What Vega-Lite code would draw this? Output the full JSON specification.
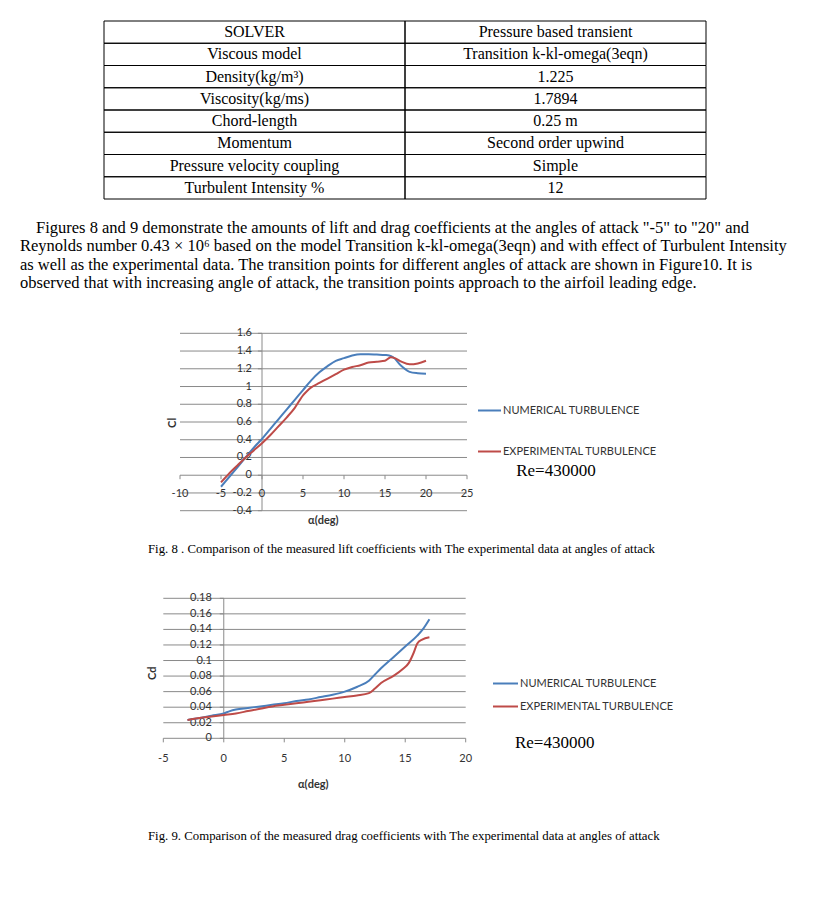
{
  "$schema": "https://vega.github.io/schema/vega-lite/v6.json",
  "width": 820,
  "height": 905,
  "padding": 0,
  "autosize": {"type": "none"},
  "background": "white",
  "config": {"view": {"stroke": null}},
  "datasets": {
    "table": [
      {"row": 1, "param": "SOLVER", "value": "Pressure based transient"},
      {"row": 2, "param": "Viscous model", "value": "Transition k-kl-omega(3eqn)"},
      {"row": 3, "param": "Density(kg/m³)", "value": "1.225"},
      {"row": 4, "param": "Viscosity(kg/ms)", "value": "1.7894"},
      {"row": 5, "param": "Chord-length", "value": "0.25 m"},
      {"row": 6, "param": "Momentum", "value": "Second order upwind"},
      {"row": 7, "param": "Pressure velocity coupling", "value": "Simple"},
      {"row": 8, "param": "Turbulent Intensity %", "value": "12"}
    ],
    "para": [
      {"line": 1, "text": "Figures 8 and 9 demonstrate the amounts of lift and drag coefficients at the angles of attack \"-5\" to \"20\" and"},
      {"line": 2, "text": "Reynolds number 0.43 × 10⁶ based on the model Transition k-kl-omega(3eqn) and with effect of Turbulent Intensity"},
      {"line": 3, "text": "as well as the experimental data. The transition points for different angles of attack are shown in Figure10. It is"},
      {"line": 4, "text": "observed that with increasing angle of attack, the transition points approach to the airfoil leading edge."}
    ],
    "captions": [
      {"fig": 8, "text": "Fig.  8 . Comparison of the measured lift coefficients with The experimental data at angles of attack"},
      {"fig": 9, "text": "Fig. 9. Comparison of the measured drag coefficients with The experimental data at angles of attack"}
    ],
    "liftGrid": [
      {"v": -0.4, "label": "-0.4"}, {"v": -0.2, "label": "-0.2"}, {"v": 0, "label": "0"}, {"v": 0.2, "label": "0.2"},
      {"v": 0.4, "label": "0.4"}, {"v": 0.6, "label": "0.6"}, {"v": 0.8, "label": "0.8"}, {"v": 1, "label": "1"},
      {"v": 1.2, "label": "1.2"}, {"v": 1.4, "label": "1.4"}, {"v": 1.6, "label": "1.6"}
    ],
    "liftX": [
      {"t": -10, "label": "-10"}, {"t": -5, "label": "-5"}, {"t": 0, "label": "0"}, {"t": 5, "label": "5"},
      {"t": 10, "label": "10"}, {"t": 15, "label": "15"}, {"t": 20, "label": "20"}, {"t": 25, "label": "25"}
    ],
    "dragGrid": [
      {"v": 0, "label": "0"}, {"v": 0.02, "label": "0.02"}, {"v": 0.04, "label": "0.04"}, {"v": 0.06, "label": "0.06"},
      {"v": 0.08, "label": "0.08"}, {"v": 0.1, "label": "0.1"}, {"v": 0.12, "label": "0.12"}, {"v": 0.14, "label": "0.14"},
      {"v": 0.16, "label": "0.16"}, {"v": 0.18, "label": "0.18"}
    ],
    "dragX": [
      {"t": -5, "label": "-5"}, {"t": 0, "label": "0"}, {"t": 5, "label": "5"},
      {"t": 10, "label": "10"}, {"t": 15, "label": "15"}, {"t": 20, "label": "20"}
    ],
    "lift": [
      {"series": "NUMERICAL TURBULENCE", "alpha": -5, "c": -0.13},
      {"series": "NUMERICAL TURBULENCE", "alpha": -4, "c": -0.02},
      {"series": "NUMERICAL TURBULENCE", "alpha": -3, "c": 0.09},
      {"series": "NUMERICAL TURBULENCE", "alpha": -2, "c": 0.2},
      {"series": "NUMERICAL TURBULENCE", "alpha": -1, "c": 0.31},
      {"series": "NUMERICAL TURBULENCE", "alpha": 0, "c": 0.41},
      {"series": "NUMERICAL TURBULENCE", "alpha": 1, "c": 0.52},
      {"series": "NUMERICAL TURBULENCE", "alpha": 2, "c": 0.63},
      {"series": "NUMERICAL TURBULENCE", "alpha": 3, "c": 0.74},
      {"series": "NUMERICAL TURBULENCE", "alpha": 4, "c": 0.85},
      {"series": "NUMERICAL TURBULENCE", "alpha": 5, "c": 0.96},
      {"series": "NUMERICAL TURBULENCE", "alpha": 6, "c": 1.07},
      {"series": "NUMERICAL TURBULENCE", "alpha": 7, "c": 1.16},
      {"series": "NUMERICAL TURBULENCE", "alpha": 8, "c": 1.23},
      {"series": "NUMERICAL TURBULENCE", "alpha": 9, "c": 1.29},
      {"series": "NUMERICAL TURBULENCE", "alpha": 10, "c": 1.32},
      {"series": "NUMERICAL TURBULENCE", "alpha": 11, "c": 1.35},
      {"series": "NUMERICAL TURBULENCE", "alpha": 12, "c": 1.365},
      {"series": "NUMERICAL TURBULENCE", "alpha": 13, "c": 1.365},
      {"series": "NUMERICAL TURBULENCE", "alpha": 14, "c": 1.36},
      {"series": "NUMERICAL TURBULENCE", "alpha": 15, "c": 1.355},
      {"series": "NUMERICAL TURBULENCE", "alpha": 15.5, "c": 1.35},
      {"series": "NUMERICAL TURBULENCE", "alpha": 16, "c": 1.33},
      {"series": "NUMERICAL TURBULENCE", "alpha": 17, "c": 1.23},
      {"series": "NUMERICAL TURBULENCE", "alpha": 18, "c": 1.165},
      {"series": "NUMERICAL TURBULENCE", "alpha": 19, "c": 1.15},
      {"series": "NUMERICAL TURBULENCE", "alpha": 20, "c": 1.145},
      {"series": "EXPERIMENTAL TURBULENCE", "alpha": -5, "c": -0.08},
      {"series": "EXPERIMENTAL TURBULENCE", "alpha": -4, "c": 0.02},
      {"series": "EXPERIMENTAL TURBULENCE", "alpha": -3, "c": 0.11},
      {"series": "EXPERIMENTAL TURBULENCE", "alpha": -2, "c": 0.2},
      {"series": "EXPERIMENTAL TURBULENCE", "alpha": -1, "c": 0.28},
      {"series": "EXPERIMENTAL TURBULENCE", "alpha": 0, "c": 0.36},
      {"series": "EXPERIMENTAL TURBULENCE", "alpha": 1, "c": 0.45},
      {"series": "EXPERIMENTAL TURBULENCE", "alpha": 2, "c": 0.55},
      {"series": "EXPERIMENTAL TURBULENCE", "alpha": 3, "c": 0.65},
      {"series": "EXPERIMENTAL TURBULENCE", "alpha": 4, "c": 0.76},
      {"series": "EXPERIMENTAL TURBULENCE", "alpha": 5, "c": 0.9},
      {"series": "EXPERIMENTAL TURBULENCE", "alpha": 5.5, "c": 0.95},
      {"series": "EXPERIMENTAL TURBULENCE", "alpha": 6, "c": 0.99},
      {"series": "EXPERIMENTAL TURBULENCE", "alpha": 7, "c": 1.04},
      {"series": "EXPERIMENTAL TURBULENCE", "alpha": 8, "c": 1.09},
      {"series": "EXPERIMENTAL TURBULENCE", "alpha": 9, "c": 1.14},
      {"series": "EXPERIMENTAL TURBULENCE", "alpha": 10, "c": 1.19},
      {"series": "EXPERIMENTAL TURBULENCE", "alpha": 11, "c": 1.22},
      {"series": "EXPERIMENTAL TURBULENCE", "alpha": 12, "c": 1.24},
      {"series": "EXPERIMENTAL TURBULENCE", "alpha": 13, "c": 1.27},
      {"series": "EXPERIMENTAL TURBULENCE", "alpha": 14, "c": 1.28},
      {"series": "EXPERIMENTAL TURBULENCE", "alpha": 15, "c": 1.29},
      {"series": "EXPERIMENTAL TURBULENCE", "alpha": 15.7, "c": 1.33},
      {"series": "EXPERIMENTAL TURBULENCE", "alpha": 16.2, "c": 1.32},
      {"series": "EXPERIMENTAL TURBULENCE", "alpha": 17, "c": 1.28},
      {"series": "EXPERIMENTAL TURBULENCE", "alpha": 18, "c": 1.25},
      {"series": "EXPERIMENTAL TURBULENCE", "alpha": 19, "c": 1.26},
      {"series": "EXPERIMENTAL TURBULENCE", "alpha": 20, "c": 1.29}
    ],
    "drag": [
      {"series": "NUMERICAL TURBULENCE", "alpha": -3, "c": 0.0235},
      {"series": "NUMERICAL TURBULENCE", "alpha": -2, "c": 0.026},
      {"series": "NUMERICAL TURBULENCE", "alpha": -1, "c": 0.029},
      {"series": "NUMERICAL TURBULENCE", "alpha": 0, "c": 0.032},
      {"series": "NUMERICAL TURBULENCE", "alpha": 0.5, "c": 0.035},
      {"series": "NUMERICAL TURBULENCE", "alpha": 1, "c": 0.037},
      {"series": "NUMERICAL TURBULENCE", "alpha": 2, "c": 0.039},
      {"series": "NUMERICAL TURBULENCE", "alpha": 3, "c": 0.041},
      {"series": "NUMERICAL TURBULENCE", "alpha": 4, "c": 0.043},
      {"series": "NUMERICAL TURBULENCE", "alpha": 5, "c": 0.045},
      {"series": "NUMERICAL TURBULENCE", "alpha": 6, "c": 0.048},
      {"series": "NUMERICAL TURBULENCE", "alpha": 7, "c": 0.05},
      {"series": "NUMERICAL TURBULENCE", "alpha": 8, "c": 0.053},
      {"series": "NUMERICAL TURBULENCE", "alpha": 9, "c": 0.056},
      {"series": "NUMERICAL TURBULENCE", "alpha": 10, "c": 0.06},
      {"series": "NUMERICAL TURBULENCE", "alpha": 11, "c": 0.066},
      {"series": "NUMERICAL TURBULENCE", "alpha": 12, "c": 0.074},
      {"series": "NUMERICAL TURBULENCE", "alpha": 12.5, "c": 0.082},
      {"series": "NUMERICAL TURBULENCE", "alpha": 13, "c": 0.09},
      {"series": "NUMERICAL TURBULENCE", "alpha": 14, "c": 0.104},
      {"series": "NUMERICAL TURBULENCE", "alpha": 15, "c": 0.118},
      {"series": "NUMERICAL TURBULENCE", "alpha": 16, "c": 0.132},
      {"series": "NUMERICAL TURBULENCE", "alpha": 16.5, "c": 0.141},
      {"series": "NUMERICAL TURBULENCE", "alpha": 17, "c": 0.153},
      {"series": "EXPERIMENTAL TURBULENCE", "alpha": -3, "c": 0.0235},
      {"series": "EXPERIMENTAL TURBULENCE", "alpha": -2, "c": 0.026},
      {"series": "EXPERIMENTAL TURBULENCE", "alpha": -1, "c": 0.028},
      {"series": "EXPERIMENTAL TURBULENCE", "alpha": 0, "c": 0.03},
      {"series": "EXPERIMENTAL TURBULENCE", "alpha": 1, "c": 0.032},
      {"series": "EXPERIMENTAL TURBULENCE", "alpha": 2, "c": 0.035},
      {"series": "EXPERIMENTAL TURBULENCE", "alpha": 3, "c": 0.038},
      {"series": "EXPERIMENTAL TURBULENCE", "alpha": 4, "c": 0.041},
      {"series": "EXPERIMENTAL TURBULENCE", "alpha": 5, "c": 0.043},
      {"series": "EXPERIMENTAL TURBULENCE", "alpha": 6, "c": 0.045},
      {"series": "EXPERIMENTAL TURBULENCE", "alpha": 7, "c": 0.047},
      {"series": "EXPERIMENTAL TURBULENCE", "alpha": 8, "c": 0.049},
      {"series": "EXPERIMENTAL TURBULENCE", "alpha": 9, "c": 0.051},
      {"series": "EXPERIMENTAL TURBULENCE", "alpha": 10, "c": 0.053},
      {"series": "EXPERIMENTAL TURBULENCE", "alpha": 11, "c": 0.055},
      {"series": "EXPERIMENTAL TURBULENCE", "alpha": 12, "c": 0.058},
      {"series": "EXPERIMENTAL TURBULENCE", "alpha": 12.5, "c": 0.064},
      {"series": "EXPERIMENTAL TURBULENCE", "alpha": 13, "c": 0.071},
      {"series": "EXPERIMENTAL TURBULENCE", "alpha": 14, "c": 0.08},
      {"series": "EXPERIMENTAL TURBULENCE", "alpha": 14.8, "c": 0.089},
      {"series": "EXPERIMENTAL TURBULENCE", "alpha": 15.3, "c": 0.097},
      {"series": "EXPERIMENTAL TURBULENCE", "alpha": 15.7, "c": 0.11},
      {"series": "EXPERIMENTAL TURBULENCE", "alpha": 16, "c": 0.122},
      {"series": "EXPERIMENTAL TURBULENCE", "alpha": 16.4, "c": 0.127},
      {"series": "EXPERIMENTAL TURBULENCE", "alpha": 17, "c": 0.13}
    ],
    "re": [{"label": "Re=430000"}],
    "alphaTitle": [{"label": "α(deg)"}],
    "clTitle": [{"label": "Cl"}],
    "cdTitle": [{"label": "Cd"}]
  },
  "layer": [
    {
      "data": {"name": "table"},
      "layer": [
        {
          "mark": {"type": "rect", "fill": "transparent", "stroke": "black", "strokeWidth": 1},
          "encoding": {
            "y": {"field": "row", "type": "ordinal", "scale": {"range": [21, 199], "paddingInner": 0, "paddingOuter": 0}, "axis": null},
            "x": {"datum": 0, "type": "quantitative", "scale": {"domain": [0, 1], "range": [104, 706], "nice": false, "zero": false}, "axis": null},
            "x2": {"datum": 0.5}
          }
        },
        {
          "mark": {"type": "rect", "fill": "transparent", "stroke": "black", "strokeWidth": 1},
          "encoding": {
            "y": {"field": "row", "type": "ordinal", "axis": null},
            "x": {"datum": 0.5, "type": "quantitative", "axis": null},
            "x2": {"datum": 1}
          }
        },
        {
          "mark": {"type": "text", "font": "Liberation Serif", "fontSize": 16, "color": "black", "align": "center", "baseline": "middle"},
          "encoding": {
            "y": {"field": "row", "type": "ordinal", "axis": null},
            "x": {"datum": 0.25, "type": "quantitative", "axis": null},
            "text": {"field": "param"}
          }
        },
        {
          "mark": {"type": "text", "font": "Liberation Serif", "fontSize": 16, "color": "black", "align": "center", "baseline": "middle"},
          "encoding": {
            "y": {"field": "row", "type": "ordinal", "axis": null},
            "x": {"datum": 0.75, "type": "quantitative", "axis": null},
            "text": {"field": "value"}
          }
        }
      ]
    },
    {
      "data": {"name": "para"},
      "layer": [
        {
          "transform": [{"filter": "datum.line == 1"}],
          "mark": {"type": "text", "font": "Liberation Serif", "fontSize": 16.5, "color": "black", "align": "left", "baseline": "middle", "dx": 16},
          "encoding": {
            "y": {"field": "line", "type": "quantitative", "scale": {"domain": [1, 4], "range": [228, 283], "nice": false, "zero": false}, "axis": null},
            "x": {"datum": 0, "type": "quantitative", "scale": {"domain": [0, 1], "range": [20, 800], "nice": false, "zero": false}, "axis": null},
            "text": {"field": "text"}
          }
        },
        {
          "transform": [{"filter": "datum.line > 1"}],
          "mark": {"type": "text", "font": "Liberation Serif", "fontSize": 16.5, "color": "black", "align": "left", "baseline": "middle"},
          "encoding": {
            "y": {"field": "line", "type": "quantitative", "scale": {"domain": [1, 4], "range": [228, 283], "nice": false, "zero": false}, "axis": null},
            "x": {"datum": 0, "type": "quantitative", "scale": {"domain": [0, 1], "range": [20, 800], "nice": false, "zero": false}, "axis": null},
            "text": {"field": "text"}
          }
        }
      ]
    },
    {
      "data": {"name": "captions"},
      "mark": {"type": "text", "font": "Liberation Serif", "fontSize": 12.8, "color": "black", "align": "left", "baseline": "middle"},
      "encoding": {
        "y": {"field": "fig", "type": "quantitative", "scale": {"domain": [8, 9], "range": [549, 836], "nice": false, "zero": false}, "axis": null},
        "x": {"datum": 0, "type": "quantitative", "scale": {"domain": [0, 1], "range": [148, 660], "nice": false, "zero": false}, "axis": null},
        "text": {"field": "text"}
      }
    },
    {
      "encoding": {
        "x": {"type": "quantitative", "scale": {"domain": [-10, 25], "range": [180, 467], "nice": false, "zero": false}, "axis": null},
        "y": {"type": "quantitative", "scale": {"domain": [-0.4, 1.6], "range": [510.7, 333.3], "nice": false, "zero": false}, "axis": null}
      },
      "layer": [
        {
          "data": {"name": "liftGrid"},
          "mark": {"type": "rule", "color": "#8a8a8a", "strokeWidth": 1},
          "encoding": {"y": {"field": "v"}, "x": {"datum": -10}, "x2": {"datum": 25}}
        },
        {
          "data": {"name": "liftGrid"},
          "mark": {"type": "rule", "color": "#8a8a8a", "strokeWidth": 1},
          "encoding": {"y": {"field": "v"}, "x": {"datum": 0}, "x2": {"datum": -0.5}}
        },
        {
          "data": {"name": "liftX"},
          "mark": {"type": "rule", "color": "#8a8a8a", "strokeWidth": 1},
          "encoding": {"x": {"field": "t"}, "y": {"datum": 0}, "y2": {"datum": -0.045}}
        },
        {
          "data": {"name": "re"},
          "mark": {"type": "rule", "color": "#8a8a8a", "strokeWidth": 1},
          "encoding": {"x": {"datum": 0}, "y": {"datum": -0.4}, "y2": {"datum": 1.6}}
        },
        {
          "data": {"name": "liftGrid"},
          "mark": {"type": "text", "font": "Lato", "fontSize": 11, "color": "#333333", "align": "right", "baseline": "middle", "dx": -10},
          "encoding": {"y": {"field": "v"}, "x": {"datum": 0}, "text": {"field": "label"}}
        },
        {
          "data": {"name": "liftX"},
          "mark": {"type": "text", "font": "Lato", "fontSize": 11, "color": "#333333", "align": "center", "baseline": "middle", "dy": 19},
          "encoding": {"x": {"field": "t"}, "y": {"datum": 0}, "text": {"field": "label"}}
        },
        {
          "data": {"name": "alphaTitle"},
          "mark": {"type": "text", "font": "Lato", "fontSize": 11, "fontWeight": "bold", "color": "#333333", "align": "center", "baseline": "middle"},
          "encoding": {"x": {"datum": 7.48}, "y": {"datum": -0.515}, "text": {"field": "label"}}
        },
        {
          "data": {"name": "clTitle"},
          "mark": {"type": "text", "font": "Lato", "fontSize": 11, "fontWeight": "bold", "color": "#333333", "align": "center", "baseline": "middle", "angle": 270},
          "encoding": {"x": {"datum": -10.85}, "y": {"datum": 0.59}, "text": {"field": "label"}}
        },
        {
          "data": {"name": "lift"},
          "mark": {"type": "line", "strokeWidth": 2, "interpolate": "monotone"},
          "encoding": {
            "x": {"field": "alpha"},
            "y": {"field": "c"},
            "color": {
              "field": "series", "type": "nominal",
              "scale": {"domain": ["NUMERICAL TURBULENCE", "EXPERIMENTAL TURBULENCE"], "range": ["#4A7EBB", "#BE4B48"]},
              "legend": {"orient": "none", "legendX": 477, "legendY": 398, "title": null, "symbolType": "stroke", "symbolSize": 529, "symbolStrokeWidth": 2, "labelFont": "Lato", "labelFontSize": 11, "labelColor": "#333333", "rowPadding": 23, "labelOffset": 1, "padding": 0}
            }
          }
        },
        {
          "data": {"name": "re"},
          "mark": {"type": "text", "font": "Liberation Serif", "fontSize": 17, "color": "black", "align": "left", "baseline": "middle"},
          "encoding": {"x": {"datum": 31}, "y": {"datum": 0.05}, "text": {"field": "label"}}
        }
      ]
    },
    {
      "encoding": {
        "x": {"type": "quantitative", "scale": {"domain": [-5, 20], "range": [163.3, 465.7], "nice": false, "zero": false}, "axis": null},
        "y": {"type": "quantitative", "scale": {"domain": [0, 0.18], "range": [738.3, 598.3], "nice": false, "zero": false}, "axis": null}
      },
      "layer": [
        {
          "data": {"name": "dragGrid"},
          "mark": {"type": "rule", "color": "#8a8a8a", "strokeWidth": 1},
          "encoding": {"y": {"field": "v"}, "x": {"datum": -5}, "x2": {"datum": 20}}
        },
        {
          "data": {"name": "dragGrid"},
          "mark": {"type": "rule", "color": "#8a8a8a", "strokeWidth": 1},
          "encoding": {"y": {"field": "v"}, "x": {"datum": 0}, "x2": {"datum": -0.33}}
        },
        {
          "data": {"name": "dragX"},
          "mark": {"type": "rule", "color": "#8a8a8a", "strokeWidth": 1},
          "encoding": {"x": {"field": "t"}, "y": {"datum": 0}, "y2": {"datum": -0.0052}}
        },
        {
          "data": {"name": "re"},
          "mark": {"type": "rule", "color": "#8a8a8a", "strokeWidth": 1},
          "encoding": {"x": {"datum": 0}, "y": {"datum": 0}, "y2": {"datum": 0.18}}
        },
        {
          "data": {"name": "dragGrid"},
          "mark": {"type": "text", "font": "Lato", "fontSize": 11, "color": "#333333", "align": "right", "baseline": "middle", "dx": -12},
          "encoding": {"y": {"field": "v"}, "x": {"datum": 0}, "text": {"field": "label"}}
        },
        {
          "data": {"name": "dragX"},
          "mark": {"type": "text", "font": "Lato", "fontSize": 11, "color": "#333333", "align": "center", "baseline": "middle", "dy": 20.5},
          "encoding": {"x": {"field": "t"}, "y": {"datum": 0}, "text": {"field": "label"}}
        },
        {
          "data": {"name": "alphaTitle"},
          "mark": {"type": "text", "font": "Lato", "fontSize": 11, "fontWeight": "bold", "color": "#333333", "align": "center", "baseline": "middle"},
          "encoding": {"x": {"datum": 7.4}, "y": {"datum": -0.06}, "text": {"field": "label"}}
        },
        {
          "data": {"name": "cdTitle"},
          "mark": {"type": "text", "font": "Lato", "fontSize": 11, "fontWeight": "bold", "color": "#333333", "align": "center", "baseline": "middle", "angle": 270},
          "encoding": {"x": {"datum": -5.83}, "y": {"datum": 0.0836}, "text": {"field": "label"}}
        },
        {
          "data": {"name": "drag"},
          "mark": {"type": "line", "strokeWidth": 2, "interpolate": "monotone"},
          "encoding": {
            "x": {"field": "alpha"},
            "y": {"field": "c"},
            "color": {
              "field": "series", "type": "nominal",
              "scale": {"domain": ["NUMERICAL TURBULENCE", "EXPERIMENTAL TURBULENCE"], "range": ["#4A7EBB", "#BE4B48"]},
              "legend": {"orient": "none", "legendX": 492, "legendY": 670, "title": null, "symbolType": "stroke", "symbolSize": 625, "symbolStrokeWidth": 2, "labelFont": "Lato", "labelFontSize": 11, "labelColor": "#333333", "rowPadding": 4, "labelOffset": 1, "padding": 0}
            }
          }
        },
        {
          "data": {"name": "re"},
          "mark": {"type": "text", "font": "Liberation Serif", "fontSize": 17, "color": "black", "align": "left", "baseline": "middle"},
          "encoding": {"x": {"datum": 24.07}, "y": {"datum": -0.006}, "text": {"field": "label"}}
        }
      ]
    }
  ],
  "resolve": {
    "scale": {"x": "independent", "y": "independent", "color": "independent"},
    "legend": {"color": "independent"}
  }
}
